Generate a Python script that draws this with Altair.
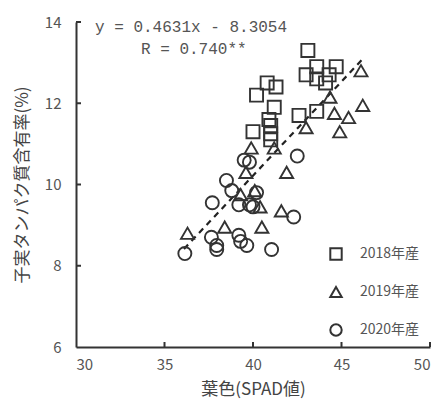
import altair as alt
import pandas as pd

years = ["2018年産", "2019年産", "2020年産"]

sq_x = [43.1, 43.6, 44.7, 43.0, 44.3, 43.6, 44.1, 40.8, 41.3, 40.2, 41.2, 42.6, 43.6, 40.9, 41.0, 41.0, 40.0, 41.0]
sq_y = [13.3, 12.9, 12.9, 12.7, 12.7, 12.6, 12.5, 12.5, 12.4, 12.2, 11.9, 11.7, 11.8, 11.6, 11.45, 11.25, 11.3, 11.1]

tr_x = [46.1, 44.35, 46.2, 44.6, 45.4, 43.0, 44.9, 41.2, 39.9, 41.9, 39.6, 40.1, 40.4, 41.6, 39.3, 36.3, 38.4, 40.5]
tr_y = [12.8, 12.15, 11.95, 11.75, 11.65, 11.4, 11.3, 10.9, 10.9, 10.3, 10.3, 9.85, 9.45, 9.35, 9.75, 8.8, 8.95, 8.95]

ci_x = [39.5, 39.8, 42.5, 38.5, 38.8, 40.2, 37.7, 39.2, 39.8, 40.0, 42.3, 37.65, 37.95, 37.95, 39.2, 39.3, 39.65, 41.05, 36.15]
ci_y = [10.6, 10.55, 10.7, 10.1, 9.85, 9.8, 9.55, 9.5, 9.5, 9.45, 9.2, 8.7, 8.5, 8.4, 8.75, 8.6, 8.5, 8.4, 8.3]

slope = 0.4631
intercept = -8.3054
line_x = [36.1, 46.2]

x_ticks = [30, 35, 40, 45, 50]
y_ticks = [6, 8, 10, 12, 14]
x_inner = [35, 40, 45, 50]
y_inner = [8, 10, 12, 14]

rows = []
for xs, ys, yr in [(sq_x, sq_y, years[0]), (tr_x, tr_y, years[1]), (ci_x, ci_y, years[2])]:
    for a, b in zip(xs, ys):
        rows.append({"spad": a, "prot": b, "year": yr})
df = pd.DataFrame(rows)

W, H = 354, 325
JP = "Noto Sans CJK JP"
GREY = "#555555"
DARK = "#333333"

xscale = alt.Scale(domain=[30, 50], nice=False, zero=False)
yscale = alt.Scale(domain=[6, 14], nice=False, zero=False)

xaxis = alt.Axis(values=x_ticks, title="葉色(SPAD値)", ticks=False, grid=False,
                 domainColor=DARK, domainWidth=2, labelColor=GREY, labelFont=JP,
                 labelFontSize=15, labelPadding=10, titleFont=JP, titleFontSize=17,
                 titleColor="#444444", titleFontWeight="normal", titlePadding=9)
yaxis = alt.Axis(values=y_ticks, title="子実タンパク質含有率(%)", ticks=False, grid=False,
                 domainColor=DARK, domainWidth=2, labelColor=GREY, labelFont=JP,
                 labelFontSize=15, labelPadding=15, titleFont=JP, titleFontSize=17,
                 titleColor="#444444", titleFontWeight="normal", titlePadding=13)

points = alt.Chart(df).mark_point(filled=False, size=170, strokeWidth=1.9, color=DARK, opacity=1).encode(
    x=alt.X("spad:Q", scale=xscale, axis=xaxis),
    y=alt.Y("prot:Q", scale=yscale, axis=yaxis),
    shape=alt.Shape("year:N", scale=alt.Scale(domain=years, range=["square", "triangle-up", "circle"]),
                    legend=alt.Legend(title=None, orient="none", legendX=253, legendY=225,
                                      symbolSize=130, symbolStrokeWidth=2, symbolStrokeColor=DARK,
                                      symbolType="circle", labelFont=JP, labelFontSize=14,
                                      labelColor=GREY, labelOffset=17, rowPadding=19, padding=0)),
)

line_df = pd.DataFrame({"spad": line_x})
reg = alt.Chart(line_df).transform_calculate(
    prot=f"{slope} * datum.spad + ({intercept})"
).mark_line(color="#222222", strokeWidth=2.2, strokeDash=[6, 5]).encode(
    x=alt.X("spad:Q", scale=xscale), y=alt.Y("prot:Q", scale=yscale)
)

xt = alt.Chart(pd.DataFrame({"v": x_inner})).mark_rule(color=DARK, strokeWidth=2).encode(
    x=alt.X("v:Q", scale=xscale), y=alt.value(H), y2=alt.value(H - 5))
yt = alt.Chart(pd.DataFrame({"v": y_inner})).mark_rule(color=DARK, strokeWidth=2).encode(
    y=alt.Y("v:Q", scale=yscale), x=alt.value(0), x2=alt.value(5))

ann_df = pd.DataFrame({"t": ["y = 0.4631x - 8.3054", "R = 0.740**"], "px": [19, 65], "py": [5, 27]})
ann = alt.Chart(ann_df).mark_text(align="left", baseline="middle", font="Liberation Mono",
                                   fontSize=16, color=GREY).encode(
    text="t:N", x=alt.X("px:Q", scale=None), y=alt.Y("py:Q", scale=None))

chart = alt.layer(reg, points, xt, yt, ann).properties(
    width=W, height=H,
    autosize=alt.AutoSizeParams(type="none"),
    padding={"left": 68, "top": 14, "right": 6, "bottom": 57},
).configure_view(stroke=None)

chart.save("out.html", embed_options={"renderer": "svg", "actions": False})
